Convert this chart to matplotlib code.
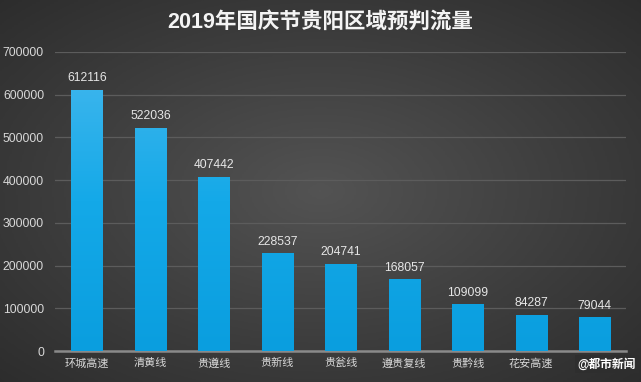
import numpy as np
import matplotlib
matplotlib.use("Agg")
import matplotlib.pyplot as plt
from matplotlib.colors import LinearSegmentedColormap

plt.rcParams['font.family'] = ['Liberation Sans', 'Noto Sans CJK SC', 'DejaVu Sans']

categories = ["环城高速", "清黄线", "贵遵线", "贵新线", "贵瓮线", "遵贵复线", "贵黔线", "花安高速", "贵毕线"]
values = [612116, 522036, 407442, 228537, 204741, 168057, 109099, 84287, 79044]
yticks = [0, 100000, 200000, 300000, 400000, 500000, 600000, 700000]
title = "2019年国庆节贵阳区域预判流量"
watermark = "@都市新闻"

W, H = 641, 382
fig = plt.figure(figsize=(W / 100, H / 100), dpi=100)

# background radial gradient
bg = fig.add_axes([0, 0, 1, 1], zorder=-10)
yy, xx = np.mgrid[0:1:200j, 0:1:320j]
r = np.sqrt(((xx - 0.5) / 0.8) ** 2 + ((yy - 0.5) / 0.8) ** 2)
r = np.clip(r, 0, 1)
bgcmap = LinearSegmentedColormap.from_list("bg", ["#535353", "#3d3d3d", "#282828"])
bg.imshow(r, cmap=bgcmap, aspect="auto", extent=[0, 1, 0, 1], origin="lower", vmin=0, vmax=1)
bg.axis("off")

ax = fig.add_axes([0.086, 0.081, 0.891, 0.783])
ax.patch.set_alpha(0)
x = np.arange(len(categories))
bars = ax.bar(x, values, width=0.49, color="#17a8e6", zorder=3)

barcmap = LinearSegmentedColormap.from_list("bar", ["#0a9edf", "#14a9e8", "#45b8ee"])
grad = np.linspace(0, 1, 256).reshape(-1, 1)
for b in bars:
    x0 = b.get_x()
    im = ax.imshow(grad, cmap=barcmap, aspect="auto", origin="lower",
                   extent=[x0, x0 + b.get_width(), 0, 700000], zorder=4)
    im.set_clip_path(b)

for xi, v in zip(x, values):
    ax.text(xi, v + 13000, str(v), ha="center", va="bottom", color="#e6e6e6", fontsize=8.7, zorder=5)

ax.set_xlim(-0.5, len(categories) - 0.5)
ax.set_ylim(0, 700000)
ax.set_yticks(yticks)
ax.set_yticklabels([str(t) for t in yticks], color="#d8d8d8", fontsize=8.8)
ax.set_xticks(x)
ax.set_xticklabels(categories, color="#d8d8d8", fontsize=8)
ax.tick_params(length=0, pad=5)
ax.tick_params(axis="y", pad=8)
ax.yaxis.grid(True, color="#5c5c5c", linewidth=0.9, zorder=0)
ax.set_axisbelow(True)
for s in ["top", "right", "left"]:
    ax.spines[s].set_visible(False)
ax.spines["bottom"].set_color("#8a8a8a")
ax.spines["bottom"].set_linewidth(1.8)

fig.text(0.5, 0.942, title, ha="center", va="center", color="#f4f4f4", fontsize=15.5, fontweight="bold")
fig.text(0.947, 0.047, watermark, ha="center", va="center", color="white", fontsize=8.5, fontweight="bold",
         bbox=dict(boxstyle="square,pad=0.2", facecolor="#2e2e2e", edgecolor="none"), zorder=10)

fig.savefig("out.png", dpi=100)
